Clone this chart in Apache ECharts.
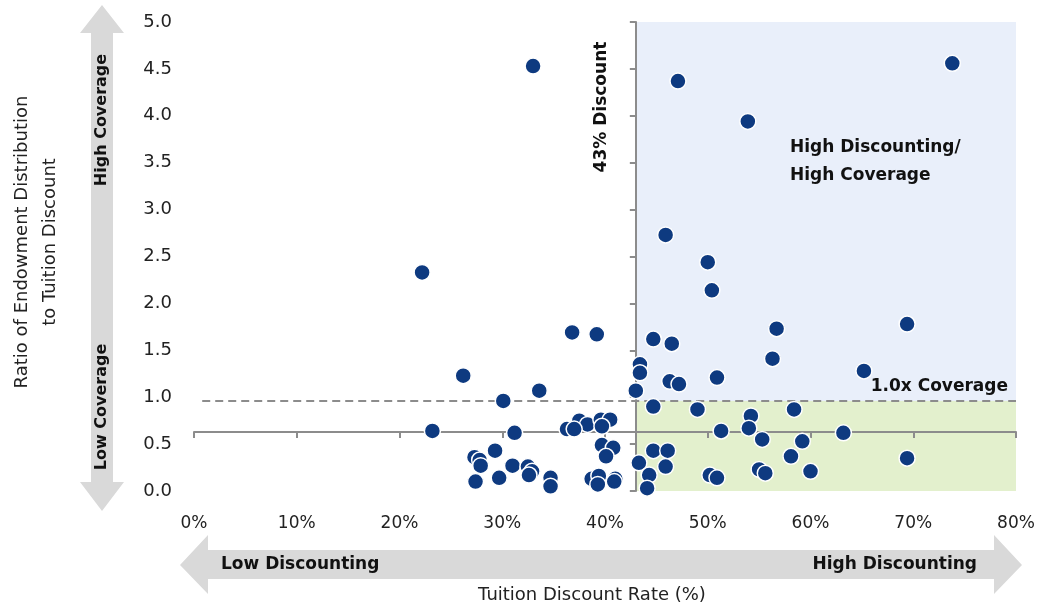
<!DOCTYPE html>
<html>
<head>
<meta charset="utf-8">
<script src="https://cdn.jsdelivr.net/npm/echarts@6/dist/echarts.min.js"></script>
<style>
  html, body { margin: 0; padding: 0; background: #fff; }
  #main { width: 1045px; height: 609px; }
</style>
</head>
<body>
<div id="main"></div>
<script>
// tuition discount rate (%) and ratio of endowment distribution to tuition discount
const discountRate = [
  33.0, 73.8, 47.1, 53.9, 45.9, 50.0, 50.4, 22.2, 36.8, 39.2, 56.7, 69.4, 44.7,
  46.5, 56.3, 65.2, 43.4, 43.4, 26.2, 33.6, 43.0, 46.3, 47.2, 50.9, 30.1,
  44.7, 49.0, 54.2, 58.4, 51.3, 54.0, 55.3, 59.2, 63.2, 23.2, 31.2,
  36.3, 37.5, 38.3, 39.6, 40.5, 39.7, 37.0, 39.7, 40.8, 40.1,
  29.3, 27.3, 27.8, 27.9, 27.4, 29.7, 31.0, 32.5, 32.9, 32.6, 34.7, 34.7,
  38.7, 39.4, 39.3, 41.0, 40.9,
  44.7, 46.1, 43.3, 45.9, 44.3, 44.1, 50.2, 50.9, 55.0, 55.6, 58.1, 60.0, 69.4
];
const coverageRatio = [
  4.53, 4.56, 4.37, 3.94, 2.73, 2.44, 2.14, 2.33, 1.69, 1.67, 1.73, 1.78, 1.62,
  1.57, 1.41, 1.28, 1.35, 1.26, 1.23, 1.07, 1.07, 1.17, 1.14, 1.21, 0.96,
  0.90, 0.87, 0.80, 0.87, 0.64, 0.67, 0.55, 0.53, 0.62, 0.64, 0.62,
  0.66, 0.75, 0.71, 0.76, 0.76, 0.69, 0.66, 0.49, 0.46, 0.37,
  0.43, 0.36, 0.33, 0.27, 0.10, 0.14, 0.27, 0.26, 0.21, 0.17, 0.14, 0.05,
  0.13, 0.16, 0.07, 0.13, 0.10,
  0.43, 0.43, 0.30, 0.26, 0.17, 0.03, 0.17, 0.14, 0.23, 0.19, 0.37, 0.21, 0.35
];

const xMin = 0, xMax = 80, xStep = 10;
const yMin = 0, yMax = 5, yStep = 0.5;
const discountCut = 43;     // vertical axis crosses here
const coverageCut = 0.96;   // "1.0x coverage" dashed line
const xAxisCrossAt = 0.63;  // horizontal axis crosses here
const dashLeft = 0.8;

const points = discountRate.map((x, i) => [x, coverageRatio[i]]);

const FONT = 'DejaVu Sans';
const NAVY = '#0E3A80';
const GREY = '#8C8C8C';
const ARROW = '#D9D9D9';

let chartDom = document.getElementById('main');
let myChart = echarts.init(chartDom, null, { renderer: 'canvas' });

const option = {
  animation: false,
  grid: {
    left: 194, right: 29, top: 22, bottom: 118,
    containLabel: false, outerBoundsMode: 'none'
  },
  xAxis: [
    {
      // tick labels only
      type: 'value', min: xMin, max: xMax, interval: xStep, position: 'bottom',
      axisLine: { show: false, onZero: false },
      axisTick: { show: false },
      splitLine: { show: false },
      axisLabel: {
        formatter: '{value}%', margin: 24,
        fontFamily: FONT, fontSize: 17, color: '#222'
      }
    },
    {
      // visible line crossing the y axis at xAxisCrossAt
      type: 'value', min: xMin, max: xMax, interval: xStep, position: 'bottom', z: 2,
      axisLine: { show: true, onZero: true, onZeroAxisIndex: 1, lineStyle: { color: GREY, width: 2 } },
      axisTick: { show: true, length: 6, lineStyle: { color: GREY, width: 2 } },
      axisLabel: { show: false },
      splitLine: { show: false }
    },
    {
      // hidden helper: zero sits at the 43% discount line
      type: 'value', show: false, min: xMin - discountCut, max: xMax - discountCut
    }
  ],
  yAxis: [
    {
      type: 'value', min: yMin, max: yMax, interval: yStep, position: 'left',
      axisLine: { show: false, onZero: false },
      axisTick: { show: false },
      splitLine: { show: false },
      axisLabel: {
        formatter: v => v.toFixed(1), margin: 22,
        fontFamily: FONT, fontSize: 18, color: '#222'
      }
    },
    {
      // hidden helper: zero sits at xAxisCrossAt
      type: 'value', show: false, min: yMin - xAxisCrossAt, max: yMax - xAxisCrossAt
    },
    {
      // visible line at the 43% discount
      type: 'value', min: yMin, max: yMax, interval: yStep, position: 'left', z: 2,
      axisLine: { show: true, onZero: true, onZeroAxisIndex: 2, lineStyle: { color: GREY, width: 2 } },
      axisTick: { show: true, length: 6, lineStyle: { color: GREY, width: 2 } },
      axisLabel: { show: false },
      splitLine: { show: false }
    }
  ],
  series: [
    {
      name: 'Institutions',
      type: 'scatter',
      z: 6,
      symbolSize: 16,
      itemStyle: { color: NAVY, borderColor: '#fff', borderWidth: 1.5, opacity: 1 },
      data: points,
      markArea: {
        silent: true,
        data: [
          [
            { xAxis: discountCut, yAxis: coverageCut, itemStyle: { color: '#E9EFFA' } },
            { xAxis: xMax, yAxis: yMax }
          ],
          [
            { xAxis: discountCut, yAxis: yMin, itemStyle: { color: '#E3F0CD' } },
            { xAxis: xMax, yAxis: coverageCut }
          ]
        ]
      },
      markLine: {
        silent: true,
        z: 3,
        symbol: 'none',
        label: { show: false },
        lineStyle: { color: GREY, width: 2, type: [8, 5] },
        data: [[{ coord: [dashLeft, coverageCut] }, { coord: [xMax, coverageCut] }]]
      }
    }
  ],
  graphic: [
    // vertical coverage arrow
    {
      type: 'polygon', z: 0,
      shape: { points: [[102, 5], [124, 33], [113, 33], [113, 482], [124, 482], [102, 511],
                        [80, 482], [91, 482], [91, 33], [80, 33]] },
      style: { fill: ARROW }
    },
    {
      type: 'text', x: 102, y: 120, rotation: Math.PI / 2, z: 10,
      style: { text: 'High Coverage', font: 'bold 16px "DejaVu Sans"', fill: '#111',
               align: 'center', verticalAlign: 'middle' }
    },
    {
      type: 'text', x: 102, y: 407, rotation: Math.PI / 2, z: 10,
      style: { text: 'Low Coverage', font: 'bold 16px "DejaVu Sans"', fill: '#111',
               align: 'center', verticalAlign: 'middle' }
    },
    // horizontal discounting arrow
    {
      type: 'polygon', z: 0,
      shape: { points: [[180, 565], [208, 535], [208, 550], [994, 550], [994, 535], [1022, 565],
                        [994, 594], [994, 579], [208, 579], [208, 594]] },
      style: { fill: ARROW }
    },
    {
      type: 'text', x: 221, y: 565, z: 10,
      style: { text: 'Low Discounting', font: 'bold 17px "DejaVu Sans"', fill: '#111',
               align: 'left', verticalAlign: 'middle' }
    },
    {
      type: 'text', x: 977, y: 565, z: 10,
      style: { text: 'High Discounting', font: 'bold 17px "DejaVu Sans"', fill: '#111',
               align: 'right', verticalAlign: 'middle' }
    },
    // axis titles
    {
      type: 'text', x: 592, y: 595, z: 10,
      style: { text: 'Tuition Discount Rate (%)', font: '18px "DejaVu Sans"', fill: '#222',
               align: 'center', verticalAlign: 'middle' }
    },
    {
      type: 'text', x: 22, y: 242, rotation: Math.PI / 2, z: 10,
      style: { text: 'Ratio of Endowment Distribution', font: '18px "DejaVu Sans"', fill: '#222',
               align: 'center', verticalAlign: 'middle' }
    },
    {
      type: 'text', x: 50, y: 242, rotation: Math.PI / 2, z: 10,
      style: { text: 'to Tuition Discount', font: '18px "DejaVu Sans"', fill: '#222',
               align: 'center', verticalAlign: 'middle' }
    },
    // annotations in the plot
    {
      type: 'text', x: 602, y: 107, rotation: Math.PI / 2, z: 10,
      style: { text: '43% Discount', font: 'bold 17px "DejaVu Sans"', fill: '#111',
               align: 'center', verticalAlign: 'middle' }
    },
    {
      type: 'text', x: 790, y: 162, z: 10,
      style: { text: 'High Discounting/\nHigh Coverage', font: 'bold 17px "DejaVu Sans"', fill: '#111',
               lineHeight: 28, align: 'left', verticalAlign: 'middle' }
    },
    {
      type: 'text', x: 1008, y: 387, z: 10,
      style: { text: '1.0x Coverage', font: 'bold 17px "DejaVu Sans"', fill: '#111',
               align: 'right', verticalAlign: 'middle' }
    }
  ]
};

myChart.setOption(option);
</script>
</body>
</html>
